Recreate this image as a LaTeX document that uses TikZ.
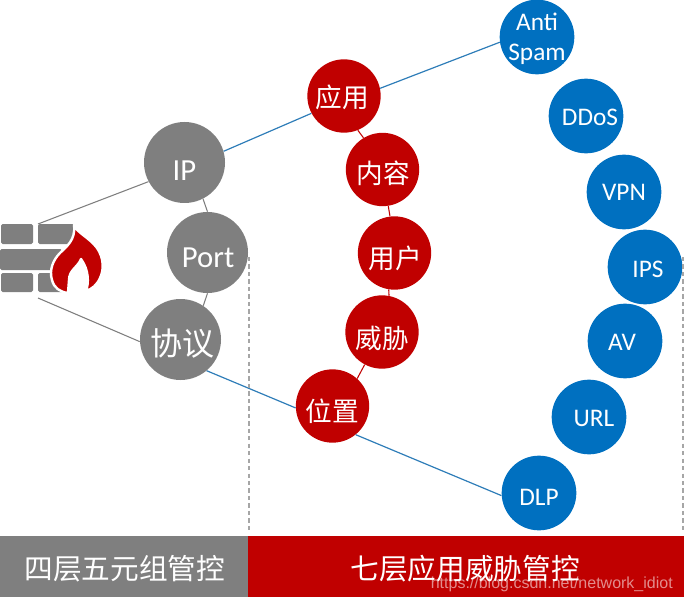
\documentclass[tikz,border=0pt]{standalone}
\usepackage{fontspec}
\setmainfont{Carlito}
\newfontfamily\cjk{Noto Sans CJK SC}
\newfontfamily\wm{Liberation Sans}
\definecolor{cgray}{HTML}{7F7F7F}
\definecolor{cred}{HTML}{C00000}
\definecolor{cblue}{HTML}{0070C0}
\definecolor{lblue}{HTML}{2E7DB8}
\definecolor{dashgray}{HTML}{A6A6A6}
% shift a label by #1,#2 (in pt) inside its node, node centre unchanged
\newcommand\shft[3]{\vphantom{#3}\makebox[0pt]{\hspace*{\dimexpr 2\dimexpr #1pt\relax\relax}\smash{\raisebox{-#2pt}{#3}}}}
\tikzset{
  x=0.75pt,y=-0.75pt,
  circ/.style={circle,inner sep=0pt,text=white,align=center},
  big/.style={circ,fill=cgray,minimum size=60.75pt,font=\fontsize{23}{26}\selectfont},
  mid/.style={circ,fill=cred,minimum size=55pt,font=\cjk\fontsize{20}{24}\selectfont},
  small/.style={circ,fill=cblue,minimum size=56pt,font=\fontsize{19}{21}\selectfont},
  grayline/.style={draw=cgray,line width=0.8pt},
  redline/.style={draw=cred,line width=0.8pt},
  blueline/.style={draw=lblue,line width=0.9pt},
  dashline/.style={draw=dashgray,line width=0.9pt,dash pattern=on 3.2pt off 2.4pt},
  barbox/.style={rectangle,inner sep=0pt,text=white,minimum height=45.75pt,font=\cjk\fontsize{21.5}{24}\selectfont},
  brick/.style={fill=cgray,rounded corners=1.2pt},
}
\begin{document}
\begin{tikzpicture}
\useasboundingbox (0,0) rectangle (684,602);
% nodes
\node[big] (ip) at (184.5,162.5) {\shft{0}{6}{IP}};
\node[big] (port) at (207.5,252.5) {\shft{0.5}{3.7}{Port}};
\node[big,font=\cjk\fontsize{24}{26}\selectfont] (proto) at (180.5,339.5) {\shft{1.3}{3}{协议}};
\node[mid] (app) at (344,96) {\shft{-1.5}{0.8}{应用}};
\node[mid] (content) at (382.5,169.5) {\shft{0.5}{3}{内容}};
\node[mid] (user) at (394.5,253) {\shft{0.6}{3.7}{用户}};
\node[mid] (threat) at (382,332) {\shft{0}{4.5}{威胁}};
\node[mid] (loc) at (332.5,406) {\shft{0}{3.7}{位置}};
\node[small] (anti) at (537,37) {\shft{0}{2.2}{\begin{tabular}{@{}c@{}}Anti\\[1.2pt]Spam\end{tabular}}};
\node[small] (ddos) at (586,116) {\shft{3}{0.8}{DDoS}};
\node[small] (vpn) at (624,192) {\shft{0}{0}{VPN}};
\node[small] (ips) at (645,267) {\shft{2.2}{1.5}{IPS}};
\node[small] (av) at (625,341) {\shft{-2.2}{0.8}{AV}};
\node[small] (url) at (589,417) {\shft{3.7}{0.8}{URL}};
\node[small] (dlp) at (539,493) {\shft{0}{3}{DLP}};
\coordinate (fwa) at (38,224);
\coordinate (fwb) at (38,298);
\coordinate (da1) at (249,257);
\coordinate (da2) at (249,533);
\coordinate (db1) at (683,257);
\coordinate (db2) at (683,533);
% connectors
\draw[grayline] (fwa) -- (ip.208);
\draw[grayline] (fwb) -- (proto.183);
\draw[grayline] (ip.297) -- (port.90);
\draw[grayline] (port.270) -- (proto.56);
\draw[blueline] (ip.16) -- (app.208);
\draw[blueline] (app.12) -- (anti.188);
\draw[blueline] (proto.310) -- (loc.183);
\draw[blueline] (loc.309) -- (dlp.184);
\draw[redline] (app.292) -- (content.121);
\draw[redline] (content.279) -- (user.97);
\draw[redline] (user.261) -- (threat.79);
\draw[redline] (threat.242) -- (loc.48);
\draw[dashline] (da1) -- (da2);
\draw[dashline] (db1) -- (db2);
% firewall icon
\fill[brick] (1,224) rectangle (33,244);
\fill[brick] (38,224) rectangle (74,244);
\fill[brick] (0,249) rectangle (62,270);
\fill[brick] (1,273) rectangle (33,292);
\fill[brick] (38,273) rectangle (66,292);
\path[fill=cred,draw=white,line width=1.8pt,line join=round]
  (74,225) .. controls (77,233) and (90,238) .. (97,248)
  .. controls (104,258) and (104,270) .. (100,278)
  .. controls (97,285) and (92,289) .. (86,291)
  .. controls (89,283) and (89,270) .. (81,259)
  .. controls (78,267) and (69,270) .. (69,280)
  -- (68,293)
  .. controls (60,292) and (54,288) .. (52,280)
  .. controls (49,270) and (53,260) .. (60,253)
  .. controls (66,247) and (76,240) .. (74,225) -- cycle;
\path[fill=white] (86,291) .. controls (89,283) and (89,270) .. (81,259)
  .. controls (78,267) and (69,270) .. (69,280) -- (68,293) -- (86,293) -- cycle;
% bars
\node[barbox,fill=cgray,minimum width=186pt,anchor=north west] (barl) at (0,536) {\shft{0.4}{1.5}{四层五元组管控}};
\node[barbox,fill=cred,minimum width=327pt,anchor=north west] (barr) at (248,536) {\shft{-0.8}{1.5}{七层应用威胁管控}};
\node[text=white,opacity=0.55,anchor=east,inner sep=0pt,font=\wm\fontsize{12}{14}\selectfont] (mark) at (673,584) {https://blog.csdn.net/network\_idiot};
\end{tikzpicture}
\end{document}
